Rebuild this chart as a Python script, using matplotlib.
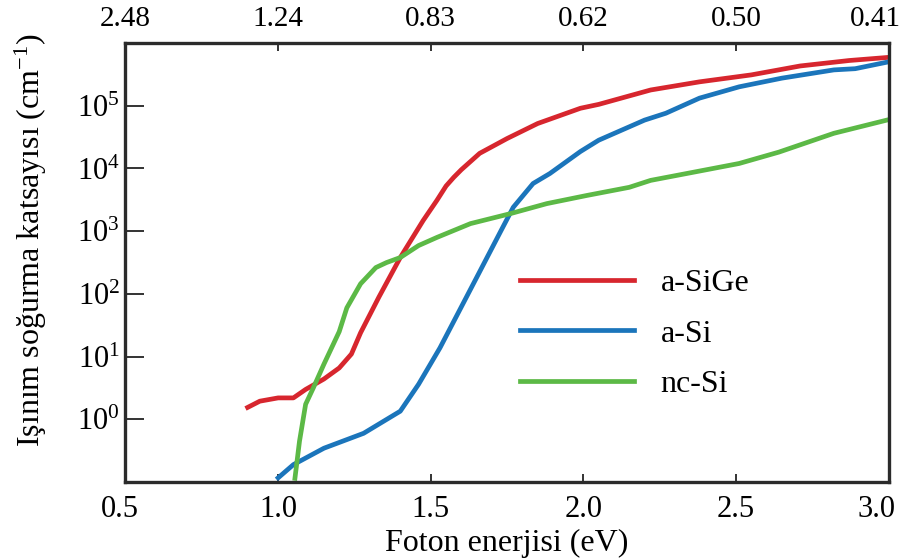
import matplotlib
matplotlib.use("Agg")
import matplotlib.pyplot as plt
from matplotlib.ticker import NullLocator
from matplotlib.transforms import ScaledTranslation
from matplotlib import rcParams

rcParams['font.family'] = 'serif'
rcParams['font.serif'] = ['Liberation Serif', 'DejaVu Serif']
rcParams['mathtext.fontset'] = 'custom'
rcParams['mathtext.rm'] = 'Liberation Serif'
rcParams['mathtext.it'] = 'Liberation Serif:italic'

# photon energy (eV) and absorption coefficient (cm^-1)
sige_E = [0.90, 0.94, 1.00, 1.05, 1.09, 1.15, 1.20, 1.24, 1.27, 1.33, 1.40, 1.475, 1.52,
          1.55, 1.575, 1.60, 1.66, 1.75, 1.85, 1.99, 2.05, 2.22, 2.38, 2.55, 2.71, 2.87, 3.00]
sige_a = [1.55, 1.95, 2.2, 2.2, 3.0, 4.4, 6.6, 11, 24, 89, 380, 1480, 3100,
          5250, 7200, 9550, 17400, 30000, 52000, 91000, 105000, 178000, 240000, 310000,
          430000, 525000, 590000]

si_E = [1.00, 1.05, 1.15, 1.28, 1.40, 1.46, 1.53, 1.65, 1.73, 1.77, 1.835, 1.89,
        1.99, 2.05, 2.20, 2.27, 2.38, 2.51, 2.65, 2.82, 2.89, 3.00]
si_a = [0.117, 0.19, 0.347, 0.60, 1.35, 3.63, 13.8, 182, 1020, 2400, 5750, 8300,
        18600, 28200, 58900, 75900, 132000, 200000, 275000, 372000, 389000, 501000]

ncsi_E = [1.055, 1.07, 1.09, 1.115, 1.15, 1.20, 1.225, 1.27, 1.32, 1.355, 1.40, 1.46,
          1.52, 1.63, 1.76, 1.88, 2.01, 2.15, 2.22, 2.36, 2.51, 2.64, 2.82, 3.00]
ncsi_a = [0.115, 0.45, 1.74, 3.16, 7.6, 25, 60, 145, 263, 316, 380, 590,
          795, 1320, 1900, 2750, 3700, 5000, 6450, 8700, 12000, 18200, 36300, 60000]

x_ticks = [0.5, 1.0, 1.5, 2.0, 2.5, 3.0]
top_labels = ['2.48', '1.24', '0.83', '0.62', '0.50', '0.41']
y_ticks = [1e0, 1e1, 1e2, 1e3, 1e4, 1e5]

fig = plt.figure(figsize=(9.06, 5.58), dpi=100)
ax = fig.add_axes([0.1385, 0.136, 0.8425, 0.787])

lw = 3.4
ax.plot(sige_E, sige_a, color='#d7262e', lw=lw, label='a-SiGe')
ax.plot(si_E, si_a, color='#1b75bb', lw=lw, label='a-Si')
ax.plot(ncsi_E, ncsi_a, color='#5cb946', lw=lw, label='nc-Si')

ax.set_yscale('log')
ax.set_xlim(0.5, 3.0)
ax.set_ylim(0.1, 1e6)
ax.set_xticks(x_ticks)
ax.set_xticklabels(['%.1f' % v for v in x_ticks])
ax.set_yticks(y_ticks)
ax.yaxis.set_minor_locator(NullLocator())

for s in ax.spines.values():
    s.set_linewidth(2.4)
    s.set_color('#2b2b2b')

ax.tick_params(axis='x', direction='in', length=6, width=1.4, color='#333333',
               labelsize=22, pad=9, top=False)
ax.tick_params(axis='y', direction='in', length=13.5, width=1.4, color='#333333',
               labelsize=22, pad=4, right=False)

top = ax.secondary_xaxis('top')
top.set_xticks(x_ticks)
top.set_xticklabels(top_labels)
top.tick_params(direction='in', length=6, width=1.4, color='#333333', labelsize=21, pad=8)

# the rightmost labels sit a little inside the frame edge in the original
for lbl, dx in [(top.get_xticklabels()[-1], -13), (ax.get_xticklabels()[-1], -12),
                (ax.get_xticklabels()[0], -6)]:
    lbl.set_transform(lbl.get_transform() + ScaledTranslation(dx / 100, 0, fig.dpi_scale_trans))

ax.set_xlabel('Foton enerjisi (eV)', fontsize=23, labelpad=4)
ax.set_ylabel('Işınım soğurma katsayısı (cm$^{-1}$)', fontsize=23)
ax.yaxis.set_label_coords(-0.1, 0.55)

ax.legend(loc='upper left', bbox_to_anchor=(0.517, 0.485), frameon=False, fontsize=23,
          handlelength=3.55, handletextpad=0.85, labelspacing=0.65,
          borderpad=0, borderaxespad=0)

fig.savefig('out.png', dpi=100)
